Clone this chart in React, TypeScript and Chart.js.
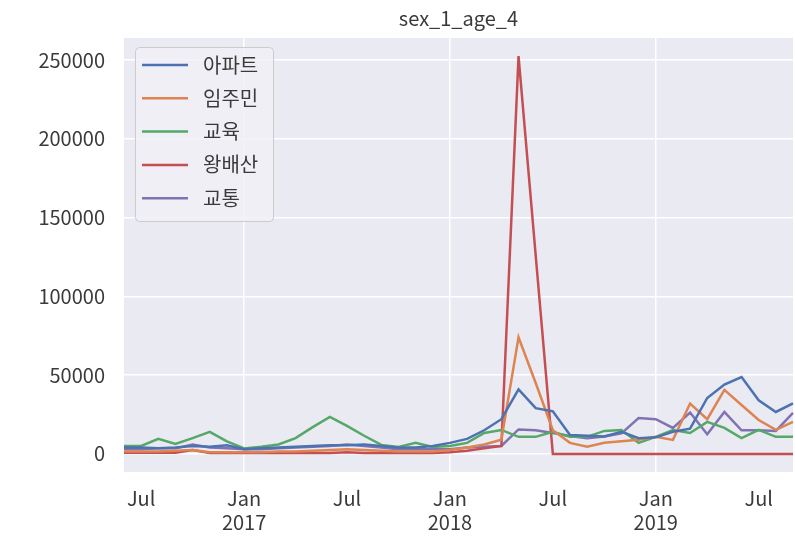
import { useEffect, useRef } from "react";
import { Chart, registerables } from "chart.js";

Chart.register(...registerables);

const TITLE = "sex_1_age_4";

const months: string[] = [
  "2016-06", "2016-07", "2016-08", "2016-09", "2016-10", "2016-11", "2016-12",
  "2017-01", "2017-02", "2017-03", "2017-04", "2017-05", "2017-06", "2017-07",
  "2017-08", "2017-09", "2017-10", "2017-11", "2017-12", "2018-01", "2018-02",
  "2018-03", "2018-04", "2018-05", "2018-06", "2018-07", "2018-08", "2018-09",
  "2018-10", "2018-11", "2018-12", "2019-01", "2019-02", "2019-03", "2019-04",
  "2019-05", "2019-06", "2019-07", "2019-08", "2019-09",
];

const yTicks = [0, 50000, 100000, 150000, 200000, 250000];

const seriesNames = ["아파트", "임주민", "교육", "왕배산", "교통"];
const seriesColors = ["#4C72B0", "#DD8452", "#55A868", "#C44E52", "#8172B3"];

const apartment = [
  4000, 4000, 3500, 4000, 5000, 4500, 5500, 3000, 3500, 4000,
  4500, 5000, 5500, 5500, 6000, 5000, 4000, 4000, 5000, 7000,
  9500, 15000, 22000, 41000, 29000, 27000, 12000, 11500, 11000, 14000,
  10000, 10500, 14000, 16000, 35500, 44000, 48800, 34000, 26600, 32000,
];
const residents = [
  1500, 1500, 1500, 2000, 2500, 1000, 1000, 1000, 1000, 1500,
  1500, 2000, 2500, 3000, 2500, 2000, 1500, 1500, 1500, 2500,
  4000, 6000, 9000, 74000, 45000, 15000, 7000, 4500, 7000, 8000,
  9000, 10800, 8900, 32000, 22000, 40600, 31000, 21500, 15200, 20300,
];
const education = [
  5000, 5000, 9500, 6300, 10000, 14000, 8000, 3500, 4500, 6000,
  10000, 17000, 23500, 17800, 11500, 5700, 4400, 7000, 4400, 5000,
  7000, 13300, 15200, 10800, 10800, 14000, 10800, 10800, 14600, 15200,
  7000, 10800, 15200, 13300, 20300, 16500, 10000, 15200, 10800, 10800,
];
const wangbaesan = [
  700, 700, 700, 700, 2500, 500, 500, 500, 500, 500,
  500, 500, 500, 1000, 500, 500, 500, 500, 500, 1000,
  2000, 3500, 5000, 252500, 126000, 0, 0, 0, 0, 0,
  0, 0, 0, 0, 0, 0, 0, 0, 0, 0,
];
const traffic = [
  3000, 3000, 3500, 3500, 6000, 4000, 3500, 3000, 3000, 3500,
  4000, 4500, 5000, 6000, 5000, 4000, 3000, 3000, 3000, 3000,
  4000, 4500, 5000, 15500, 15000, 13300, 11400, 10000, 11000, 13000,
  22800, 22000, 16500, 26300, 12500, 26600, 15000, 15000, 14600, 26000,
];

const seriesValues = [apartment, residents, education, wangbaesan, traffic];

const FONT = "'Noto Sans CJK KR', 'Noto Sans', sans-serif";
const TEXT_COLOR = "#3a3a3a";

const bgPlugin = {
  id: "bgPlugin",
  beforeDraw(chart: any) {
    const { ctx, chartArea } = chart;
    ctx.save();
    ctx.fillStyle = "#EAEAF2";
    ctx.fillRect(chartArea.left, chartArea.top, chartArea.right - chartArea.left, chartArea.bottom - chartArea.top);
    ctx.restore();
  },
};

const titlePlugin = {
  id: "titlePlugin",
  afterDraw(chart: any) {
    const { ctx, chartArea } = chart;
    ctx.save();
    ctx.font = `20px ${FONT}`;
    ctx.fillStyle = TEXT_COLOR;
    ctx.textAlign = "center";
    ctx.textBaseline = "middle";
    ctx.fillText(TITLE, (chartArea.left + chartArea.right) / 2, 18);
    ctx.restore();
  },
};

const legendPlugin = {
  id: "legendPlugin",
  afterDatasetsDraw(chart: any) {
    const { ctx, chartArea } = chart;
    const x0 = chartArea.left + 11;
    const y0 = chartArea.top + 9;
    const w = 138;
    const h = 174;
    ctx.save();
    ctx.fillStyle = "rgba(240,240,246,0.85)";
    ctx.strokeStyle = "#CCCCCC";
    ctx.lineWidth = 1;
    ctx.beginPath();
    if (ctx.roundRect) ctx.roundRect(x0 + 0.5, y0 + 0.5, w, h, 4);
    else ctx.rect(x0 + 0.5, y0 + 0.5, w, h);
    ctx.fill();
    ctx.stroke();
    ctx.font = `20px ${FONT}`;
    ctx.textBaseline = "middle";
    ctx.textAlign = "left";
    chart.data.datasets.forEach((ds: any, i: number) => {
      const y = y0 + 18 + i * 33.3;
      ctx.strokeStyle = ds.borderColor;
      ctx.lineWidth = 2.5;
      ctx.beginPath();
      ctx.moveTo(x0 + 7, y);
      ctx.lineTo(x0 + 53, y);
      ctx.stroke();
      ctx.fillStyle = TEXT_COLOR;
      ctx.fillText(ds.label, x0 + 68, y);
    });
    ctx.restore();
  },
};

export default function App() {
  const ref = useRef<HTMLCanvasElement>(null);

  useEffect(() => {
    const canvas = ref.current;
    if (!canvas) return;
    const chart = new Chart(canvas, {
      type: "line",
      data: {
        labels: months,
        datasets: seriesNames.map((name, i) => ({
          label: name,
          data: seriesValues[i],
          borderColor: seriesColors[i],
          backgroundColor: seriesColors[i],
          borderWidth: 2.5,
          pointRadius: 0,
          tension: 0,
          fill: false,
        })),
      },
      options: {
        responsive: false,
        animation: false,
        devicePixelRatio: 1,
        layout: { padding: { top: 38, right: 2, left: 0, bottom: 0 } },
        plugins: {
          legend: { display: false },
          title: { display: false },
          tooltip: { enabled: false },
        },
        scales: {
          x: {
            type: "category",
            offset: false,
            border: { display: false },
            grid: {
              drawTicks: true,
              tickLength: 14,
              lineWidth: 1.5,
              color: (ctx: any) =>
                ctx.type === "tick" && months[ctx.index] && months[ctx.index].endsWith("-01")
                  ? "#FFFFFF"
                  : "rgba(0,0,0,0)",
            },
            ticks: {
              autoSkip: false,
              maxRotation: 0,
              minRotation: 0,
              padding: 0,
              color: TEXT_COLOR,
              font: { size: 20, family: FONT, lineHeight: 1.2 },
              callback: (_v: any, index: number) => {
                const m = months[index];
                if (!m) return "";
                const [yr, mo] = m.split("-");
                if (mo === "01") return ["Jan", yr];
                if (mo === "07") return "Jul";
                return "";
              },
            },
            afterFit: (scale: any) => {
              scale.height = 65;
            },
          },
          y: {
            min: -11500,
            max: 264000,
            border: { display: false },
            grid: { drawTicks: true, tickLength: 19, color: "#FFFFFF", lineWidth: 1.5 },
            ticks: {
              padding: 0,
              color: TEXT_COLOR,
              font: { size: 20, family: FONT },
              callback: (v: any) => String(v),
            },
            afterBuildTicks: (scale: any) => {
              scale.ticks = yTicks.map((v) => ({ value: v }));
            },
            afterFit: (scale: any) => {
              scale.width = 124;
            },
          },
        },
      },
      plugins: [bgPlugin, titlePlugin, legendPlugin],
    } as any);
    return () => chart.destroy();
  }, []);

  return (
    <div
      style={{
        position: "absolute",
        left: 0,
        top: 0,
        width: 795,
        height: 537,
        overflow: "hidden",
        background: "#FFFFFF",
      }}
    >
      <canvas ref={ref} width={795} height={537} style={{ display: "block" }} />
    </div>
  );
}
